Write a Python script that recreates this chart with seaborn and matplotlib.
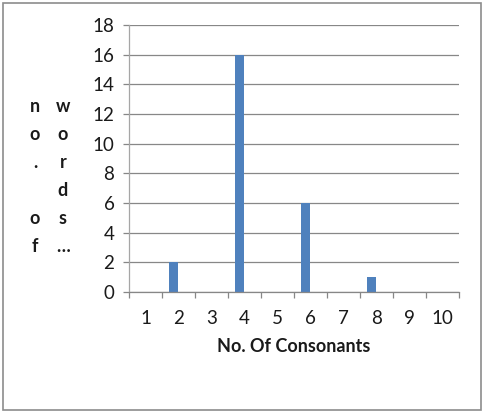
import pandas as pd
import matplotlib.pyplot as plt
import seaborn as sns
from matplotlib.patches import Rectangle

# data
consonants = ['1', '2', '3', '4', '5', '6', '7', '8', '9', '10']
words = [0, 2, 0, 16, 0, 6, 0, 1, 0, 0]
blank = [0, 0, 0, 0, 0, 0, 0, 0, 0, 0]   # empty second series (Excel offset)
ylabel_col1 = ['n', 'o', '.', '', 'o', 'f']
ylabel_col2 = ['w', 'o', 'r', 'd', 's', '…']

df = pd.DataFrame({
    'consonants': consonants * 2,
    'count': words + blank,
    'series': ['words'] * len(words) + ['blank'] * len(blank),
})

sns.set_style('white')
plt.rcParams['font.family'] = ['Lato', 'DejaVu Sans']

fig = plt.figure(figsize=(4.85, 4.16), dpi=100)
ax = fig.add_axes([129 / 485, 1 - 292 / 416, 330 / 485, 267 / 416])

sns.barplot(data=df, x='consonants', y='count', hue='series',
            hue_order=['words', 'blank'], palette=['#4F81BD', '#C0504D'],
            saturation=1, width=0.55, linewidth=0, legend=False, ax=ax)

ax.set_ylim(0, 18)
ax.set_yticks(range(0, 19, 2))
ax.set_xlim(-0.5, len(consonants) - 0.5)
ax.yaxis.grid(True, color='#878787', linewidth=0.9)
ax.set_axisbelow(True)

# ticks between categories, labels centred
ax.set_xticks([i - 0.5 for i in range(len(consonants) + 1)])
ax.set_xticklabels([])
ax.set_xticks(range(len(consonants)), minor=True)
ax.set_xticklabels(consonants, minor=True)
ax.tick_params(axis='x', which='major', direction='out', length=4.5,
               width=0.9, color='#878787', bottom=True)
ax.tick_params(axis='x', which='minor', length=0, pad=13, labelsize=13.5,
               labelcolor='#1a1a1a')
ax.tick_params(axis='y', direction='out', length=4.5, width=0.9,
               color='#878787', left=True, pad=6, labelsize=13.5,
               labelcolor='#1a1a1a')

for s in ['top', 'right']:
    ax.spines[s].set_visible(False)
ax.spines['left'].set_color('#A6A6A6')
ax.spines['bottom'].set_color('#878787')
ax.spines['left'].set_linewidth(0.9)
ax.spines['bottom'].set_linewidth(0.9)

ax.set_ylabel('')
ax.set_xlabel('No. Of Consonants', fontsize=13, fontweight='bold',
              color='#1a1a1a', labelpad=8)

# stacked y-axis title
for x_px, col in [(35, ylabel_col1), (63, ylabel_col2)]:
    for i, ch in enumerate(col):
        fig.text(x_px / 485, 1 - (106 + 28.2 * i) / 416, ch, ha='center',
                 va='center', fontsize=13, fontweight='bold', color='#1a1a1a')

# chart border
fig.patches.append(Rectangle((3 / 485, 1 - 410 / 416), 478 / 485, 407 / 416,
                             transform=fig.transFigure, fill=False,
                             edgecolor='#8c8c8c', linewidth=1.2))

fig.savefig('out.png', dpi=100)
